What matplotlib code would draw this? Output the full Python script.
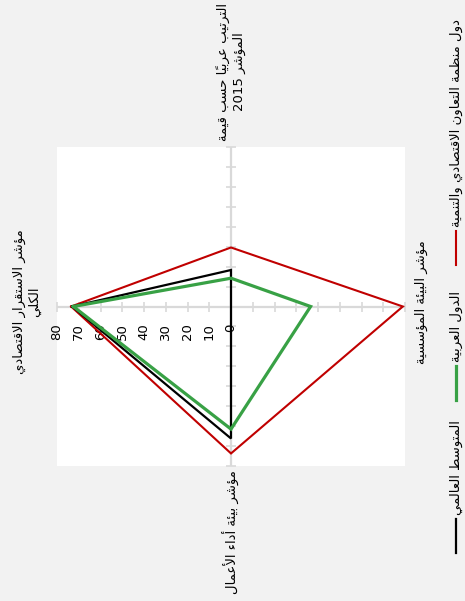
import numpy as np
import matplotlib
matplotlib.use('Agg')
import matplotlib.pyplot as plt
from matplotlib.lines import Line2D

# data (values on a 0-80 scale)
categories = ['مؤشر الاستقرار الاقتصادي\nالكلي',
              'الترتيب عربياً حسب قيمة\nالمؤشر 2015',
              'مؤشر البيئة المؤسسية',
              'مؤشر بيئة أداء الأعمال']
series_names = ['المتوسط العالمي', 'الدول العربية',
                'دول منظمة التعاون الاقتصادي والتنمية']
world = [73, 18.3, 0, 66.2]
arab = [72.5, 14.2, 36.6, 61.5]
oecd = [73.5, 29.6, 79, 73.7]
ticks = [0, 10, 20, 30, 40, 50, 60, 70, 80]

# --- minimal arabic shaping (matplotlib has no bidi / joining) ---
FORMS = {
    'ء': (0xFE80, 1), 'آ': (0xFE81, 2), 'أ': (0xFE83, 2), 'ؤ': (0xFE85, 2),
    'إ': (0xFE87, 2), 'ئ': (0xFE89, 4), 'ا': (0xFE8D, 2), 'ب': (0xFE8F, 4),
    'ة': (0xFE93, 2), 'ت': (0xFE95, 4), 'ث': (0xFE99, 4), 'ج': (0xFE9D, 4),
    'ح': (0xFEA1, 4), 'خ': (0xFEA5, 4), 'د': (0xFEA9, 2), 'ذ': (0xFEAB, 2),
    'ر': (0xFEAD, 2), 'ز': (0xFEAF, 2), 'س': (0xFEB1, 4), 'ش': (0xFEB5, 4),
    'ص': (0xFEB9, 4), 'ض': (0xFEBD, 4), 'ط': (0xFEC1, 4), 'ظ': (0xFEC5, 4),
    'ع': (0xFEC9, 4), 'غ': (0xFECD, 4), 'ف': (0xFED1, 4), 'ق': (0xFED5, 4),
    'ك': (0xFED9, 4), 'ل': (0xFEDD, 4), 'م': (0xFEE1, 4), 'ن': (0xFEE5, 4),
    'ه': (0xFEE9, 4), 'و': (0xFEED, 2), 'ى': (0xFEEF, 2), 'ي': (0xFEF1, 4),
    'لآ': (0xFEF5, 2), 'لأ': (0xFEF7, 2), 'لإ': (0xFEF9, 2), 'لا': (0xFEFB, 2),
}
MARKS = set(chr(c) for c in range(0x064B, 0x0653))


def shape_line(line):
    units = []
    i = 0
    while i < len(line):
        if line[i] == 'ل' and i + 1 < len(line) and line[i + 1] in 'اأإآ':
            units.append(line[i:i + 2])
            i += 2
        else:
            units.append(line[i])
            i += 1
    shaped = []
    for k, u in enumerate(units):
        if u not in FORMS:
            shaped.append(u)
            continue
        start, n = FORMS[u]
        p = k - 1
        while p >= 0 and units[p] in MARKS:
            p -= 1
        q = k + 1
        while q < len(units) and units[q] in MARKS:
            q += 1
        prev_j = p >= 0 and units[p] in FORMS and FORMS[units[p]][1] == 4
        next_j = n == 4 and q < len(units) and units[q] in FORMS and FORMS[units[q]][1] > 1
        if prev_j and next_j:
            idx = 3
        elif prev_j:
            idx = 1
        elif next_j:
            idx = 2
        else:
            idx = 0
        shaped.append(chr(start + idx))
    clusters = []
    for ch in shaped:
        if ch in MARKS and clusters:
            clusters[-1] += ch
        elif ch.isdigit() and clusters and clusters[-1][-1].isdigit():
            clusters[-1] += ch
        else:
            clusters.append(ch)
    return ''.join(reversed(clusters))


def ar(text):
    return '\n'.join(shape_line(l) for l in text.split('\n'))


W, H = 465, 601
fig = plt.figure(figsize=(W / 100, H / 100), dpi=100, facecolor='#f2f2f2')
plt.rcParams['font.family'] = ['DejaVu Sans']


def fx(x):
    return x / W


def fy(y):
    return 1 - y / H


ax = fig.add_axes([fx(57), fy(466), 348 / W, 319 / H])
ax.set_facecolor('white')
for s in ax.spines.values():
    s.set_visible(False)
ax.set_xticks([])
ax.set_yticks([])
ax.set_xlim(-80, 80)
ax.set_ylim(-80, 80)

# chart is turned a quarter turn: first axis points left, then clockwise
theta = np.pi - np.arange(len(categories)) * np.pi / 2
rmax = ticks[-1]
for th in theta:
    ax.plot([0, rmax * np.cos(th)], [0, rmax * np.sin(th)], color='#d9d9d9', lw=1.6, zorder=1)
    tv = np.array(ticks[1:])
    mk = '_' if abs(np.cos(th)) < 0.5 else '|'
    ax.plot(tv * np.cos(th), tv * np.sin(th), ls='none', marker=mk, ms=7, mew=1.2,
            color='#d9d9d9', zorder=1, clip_on=False)

for t in ticks:
    ax.annotate(str(t), xy=(t * np.cos(theta[0]), t * np.sin(theta[0])), xytext=(0, -12),
                textcoords='offset points', rotation=90, ha='center', va='top', fontsize=9.5)

colors = ['black', '#38a145', '#c00000']
widths = [1.6, 2.3, 1.5]
data = [world, arab, oecd]
for j in [2, 0, 1]:
    v = np.array(data[j] + data[j][:1])
    th = np.append(theta, theta[0])
    ax.plot(v * np.cos(th), v * np.sin(th), color=colors[j], lw=widths[j], zorder=3,
            clip_on=False, solid_joinstyle='miter')

# category labels
fs = 9.5
fig.text(fx(27), fy(302), ar(categories[0]), rotation=90, ha='center', va='center',
         multialignment='center', fontsize=fs)
fig.text(fx(231), fy(141), ar(categories[1]), rotation=90, ha='center', va='bottom',
         multialignment='center', fontsize=fs)
fig.text(fx(421), fy(302), ar(categories[2]), rotation=90, ha='center', va='center',
         fontsize=fs)
fig.text(fx(231), fy(470), ar(categories[3]), rotation=90, ha='center', va='top',
         fontsize=fs)

# legend (sample below its text, stacked upward)
sample_bottoms = [553, 400, 265]
for j in range(3):
    yb = sample_bottoms[j]
    fig.add_artist(Line2D([fx(456), fx(456)], [fy(yb), fy(yb - 34)], color=colors[j],
                          lw=widths[j], transform=fig.transFigure))
    fig.text(fx(456), fy(yb - 38), ar(series_names[j]), rotation=90, ha='center',
             va='bottom', fontsize=fs)

fig.savefig('out.png', dpi=100, facecolor=fig.get_facecolor())
